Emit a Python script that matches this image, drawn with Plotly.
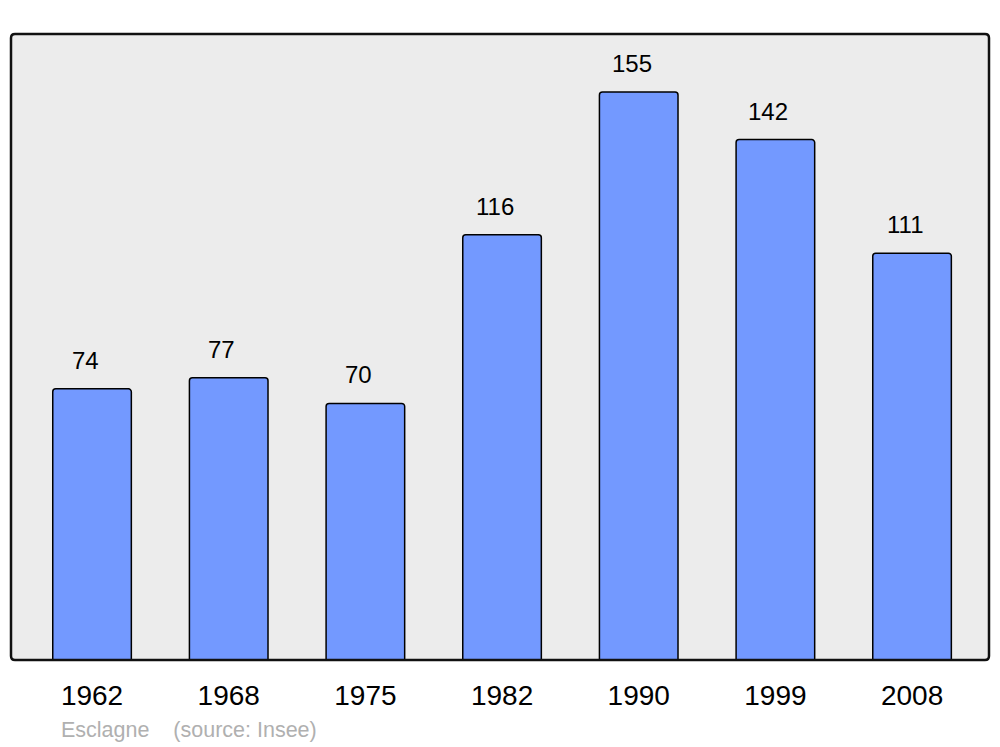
import plotly.graph_objects as go

years = ["1962", "1968", "1975", "1982", "1990", "1999", "2008"]
population = [74, 77, 70, 116, 155, 142, 111]
source_text = "Esclagne    (source: Insee)"

# page body has an 8px margin; figure sized to fit the 1000x747 window
W, H = 984, 739
ml, mr, mt, mb = 3, 3, 26, 87

fig = go.Figure()
fig.add_trace(go.Bar(
    x=years, y=population, width=0.575,
    marker=dict(color="#7399ff", line=dict(color="#000000", width=1.5), cornerradius=3),
    hoverinfo="skip",
))

for i, v in enumerate(population):
    fig.add_annotation(x=i, y=v, text=str(v), showarrow=False, xref="x", yref="y",
                       yanchor="middle", xanchor="center", yshift=28.5, xshift=-7,
                       font=dict(family="Liberation Sans, Arial, sans-serif", size=24, color="#000000"))

pw, ph = W - ml - mr, H - mt - mb
fig.add_annotation(x=(59 - 8 - ml) / pw, y=-(730 - 8 - (H - mb)) / ph,
                   xref="paper", yref="paper", xanchor="left", yanchor="middle",
                   text=source_text, showarrow=False,
                   font=dict(family="Liberation Sans, Arial, sans-serif", size=21.5, color="#b0b0b0"))

# rounded frame around the plot area
r = 4
rx, ry = r / pw, r / ph
path = (f"M {rx},0 L {1-rx},0 Q 1,0 1,{ry} L 1,{1-ry} Q 1,1 {1-rx},1 "
        f"L {rx},1 Q 0,1 0,{1-ry} L 0,{ry} Q 0,0 {rx},0 Z")
fig.add_shape(type="path", path=path, xref="paper", yref="paper",
              line=dict(color="#111111", width=2.5), fillcolor="rgba(0,0,0,0)", layer="above")

fig.update_layout(
    width=W, height=H,
    margin=dict(l=ml, r=mr, t=mt, b=mb),
    paper_bgcolor="#ffffff", plot_bgcolor="#ececec",
    showlegend=False,
    font=dict(family="Liberation Sans, Arial, sans-serif", color="#000000"),
)
fig.update_xaxes(type="category", range=[-0.593, 6.563], showgrid=False, zeroline=False,
                 showline=False, ticks="outside", ticklen=10, tickcolor="rgba(0,0,0,0)",
                 tickfont=dict(size=28, color="#000000"))
fig.update_yaxes(range=[0, 170.8], showgrid=False, zeroline=False, showline=False,
                 showticklabels=False, ticks="")

fig.write_html("out.html")
